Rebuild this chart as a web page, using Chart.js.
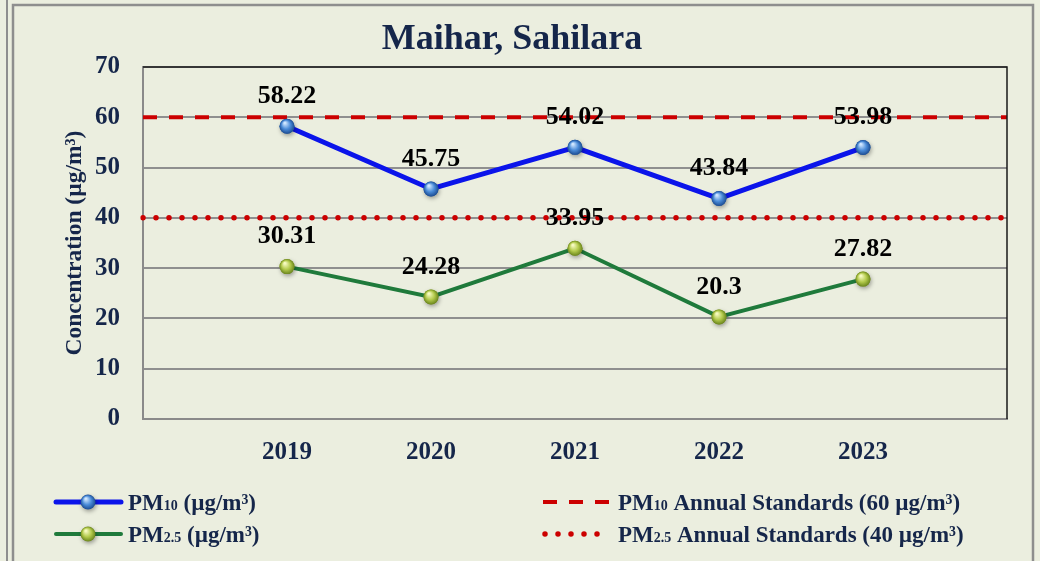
<!DOCTYPE html>
<html><head><meta charset="utf-8">
<script src="https://cdn.jsdelivr.net/npm/chart.js@4.4.1/dist/chart.umd.min.js"></script>
<style>html,body{margin:0;padding:0;background:#ebeedf;}canvas{display:block}</style>
</head><body>
<canvas id="c" width="1040" height="561"></canvas>
<script>
const chartTitle = 'Maihar, Sahilara';
const yAxisTitle = 'Concentration (µg/m³)';
const years = ['2019', '2020', '2021', '2022', '2023'];
const pm10 = [58.22, 45.75, 54.02, 43.84, 53.98];
const pm25 = [30.31, 24.28, 33.95, 20.3, 27.82];
const pm10Standard = 60;
const pm25Standard = 40;
const yTicks = [0, 10, 20, 30, 40, 50, 60, 70];
const seriesLabels = ['PM_{10} (µg/m³)', 'PM_{2.5} (µg/m³)', 'PM_{10} Annual Standards (60 µg/m³)', 'PM_{2.5} Annual Standards (40 µg/m³)'];

const labels = ['', ...years, ''];
const padSeries = arr => [null, ...arr, null];
const flat = v => labels.map(() => v);

const SERIF = "'Liberation Serif','Times New Roman',serif";
const NAVY = '#15264a';
const BLUE = '#0b14ea';
const GREEN = '#1f7a3b';
const RED = '#cc0000';
const SPHERES = [
  ['#cfe6ff', '#4a8bd8', '#1c4c92'],
  ['#f6fac0', '#b3ca4c', '#6b861c']
];

function sphere(ctx, x, y, r, c) {
  ctx.save();
  ctx.shadowColor = 'rgba(0,0,0,0.35)';
  ctx.shadowBlur = 4; ctx.shadowOffsetX = 1; ctx.shadowOffsetY = 2;
  const g = ctx.createRadialGradient(x - r * 0.3, y - r * 0.45, r * 0.1, x, y, r);
  g.addColorStop(0, c[0]); g.addColorStop(0.55, c[1]); g.addColorStop(1, c[2]);
  ctx.fillStyle = g;
  ctx.beginPath(); ctx.arc(x, y, r, 0, Math.PI * 2); ctx.fill();
  ctx.restore();
}

function drawRich(ctx, text, x, y, size, color) {
  const parts = [];
  const re = /_\{([^}]*)\}/g; let last = 0, m;
  while ((m = re.exec(text))) {
    if (m.index > last) parts.push({ t: text.slice(last, m.index), sub: false });
    parts.push({ t: m[1], sub: true });
    last = re.lastIndex;
  }
  if (last < text.length) parts.push({ t: text.slice(last), sub: false });
  ctx.save();
  ctx.fillStyle = color; ctx.textBaseline = 'alphabetic'; ctx.textAlign = 'left';
  let cx = x;
  for (const p of parts) {
    ctx.font = `bold ${p.sub ? Math.round(size * 0.62) : size}px ${SERIF}`;
    ctx.fillText(p.t, cx, y);
    cx += ctx.measureText(p.t).width;
  }
  ctx.restore();
}

const decor = {
  id: 'decor',
  beforeDraw(chart) {
    const ctx = chart.ctx;
    ctx.save();
    ctx.fillStyle = '#ebeedf'; ctx.fillRect(0, 0, chart.width, chart.height);
    ctx.strokeStyle = '#8e8e8e'; ctx.lineWidth = 2;
    ctx.beginPath(); ctx.moveTo(7, 0); ctx.lineTo(7, chart.height); ctx.stroke();
    ctx.lineWidth = 2.5;
    ctx.strokeRect(13, 5, 1020, chart.height + 10);
    ctx.fillStyle = NAVY; ctx.font = `bold 36px ${SERIF}`;
    ctx.textAlign = 'center'; ctx.textBaseline = 'alphabetic';
    ctx.fillText(chartTitle, 512, 49);
    ctx.restore();
  },
  afterDatasetsDraw(chart) {
    const ctx = chart.ctx; const a = chart.chartArea;
    ctx.save();
    ctx.strokeStyle = '#1a1a1a'; ctx.lineWidth = 1.5;
    ctx.beginPath(); ctx.moveTo(a.left, a.top); ctx.lineTo(a.right, a.top); ctx.lineTo(a.right, a.bottom); ctx.stroke();
    ctx.restore();
    [0, 1].forEach(i => {
      const meta = chart.getDatasetMeta(i); const ds = chart.data.datasets[i];
      meta.data.forEach((pt, j) => { if (ds.data[j] != null) sphere(ctx, pt.x, pt.y, 7.5, SPHERES[i]); });
    });
    ctx.save();
    ctx.fillStyle = '#000'; ctx.font = `bold 26px ${SERIF}`;
    ctx.textAlign = 'center'; ctx.textBaseline = 'middle';
    [0, 1].forEach(i => {
      const meta = chart.getDatasetMeta(i); const ds = chart.data.datasets[i];
      meta.data.forEach((pt, j) => { const v = ds.data[j]; if (v != null) ctx.fillText(String(v), pt.x, pt.y - 30); });
    });
    ctx.restore();
  },
  afterDraw(chart) {
    const ctx = chart.ctx;
    const ds = chart.data.datasets;
    const rows = [510, 542];
    const mids = [502, 534];
    ctx.save();
    ctx.lineCap = 'round';
    ctx.strokeStyle = BLUE; ctx.lineWidth = 5;
    ctx.beginPath(); ctx.moveTo(56, mids[0]); ctx.lineTo(121, mids[0]); ctx.stroke();
    ctx.strokeStyle = GREEN; ctx.lineWidth = 4;
    ctx.beginPath(); ctx.moveTo(56, mids[1]); ctx.lineTo(121, mids[1]); ctx.stroke();
    ctx.restore();
    sphere(ctx, 88, mids[0], 7.5, SPHERES[0]);
    sphere(ctx, 88, mids[1], 7.5, SPHERES[1]);
    drawRich(ctx, ds[0].label, 128, rows[0], 23, NAVY);
    drawRich(ctx, ds[1].label, 128, rows[1], 23, NAVY);
    ctx.save();
    ctx.strokeStyle = RED; ctx.lineWidth = 4; ctx.lineCap = 'butt';
    ctx.setLineDash([14, 12]);
    ctx.beginPath(); ctx.moveTo(543, mids[0]); ctx.lineTo(612, mids[0]); ctx.stroke();
    ctx.lineWidth = 5.5; ctx.lineCap = 'round'; ctx.setLineDash([0, 13]);
    ctx.beginPath(); ctx.moveTo(545, mids[1]); ctx.lineTo(600, mids[1]); ctx.stroke();
    ctx.restore();
    drawRich(ctx, ds[2].label, 618, rows[0], 23, NAVY);
    drawRich(ctx, ds[3].label, 618, rows[1], 23, NAVY);
  }
};

new Chart(document.getElementById('c'), {
  type: 'line',
  data: {
    labels,
    datasets: [
      { label: seriesLabels[0], data: padSeries(pm10), borderColor: BLUE, backgroundColor: SPHERES[0][1], borderWidth: 5, pointRadius: 7.5, pointBorderWidth: 0, fill: false, tension: 0 },
      { label: seriesLabels[1], data: padSeries(pm25), borderColor: GREEN, backgroundColor: SPHERES[1][1], borderWidth: 4, pointRadius: 7.5, pointBorderWidth: 0, fill: false, tension: 0 },
      { label: seriesLabels[2], data: flat(pm10Standard), borderColor: RED, borderWidth: 4, borderDash: [14, 12], pointRadius: 0, fill: false },
      { label: seriesLabels[3], data: flat(pm25Standard), borderColor: RED, borderWidth: 5.5, borderDash: [0, 13], borderCapStyle: 'round', pointRadius: 0, fill: false }
    ]
  },
  options: {
    responsive: false,
    animation: false,
    events: [],
    layout: { padding: { left: 54, right: 33, top: 67, bottom: 0 } },
    plugins: { legend: { display: false }, title: { display: false }, tooltip: { enabled: false } },
    scales: {
      x: {
        offset: false,
        grid: { display: false, drawTicks: false },
        border: { display: true, color: '#8a8a8a', width: 2 },
        ticks: { color: NAVY, font: { family: SERIF, size: 25, weight: 'bold' }, padding: 19, maxRotation: 0, autoSkip: false },
        afterFit: s => { s.height = 142; }
      },
      y: {
        min: yTicks[0], max: yTicks[yTicks.length - 1],
        afterBuildTicks: s => { s.ticks = yTicks.map(v => ({ value: v })); },
        grid: { color: '#8f8f8f', lineWidth: 2, drawTicks: false },
        border: { display: true, color: '#8a8a8a', width: 2 },
        ticks: { color: NAVY, font: { family: SERIF, size: 25, weight: 'bold' }, padding: 23 },
        title: { display: true, text: yAxisTitle, color: NAVY, font: { family: SERIF, size: 23.5, weight: 'bold' }, padding: { top: 7, bottom: 0 } },
        afterFit: s => { s.width = 89; }
      }
    }
  },
  plugins: [decor]
});
</script>
</body></html>
